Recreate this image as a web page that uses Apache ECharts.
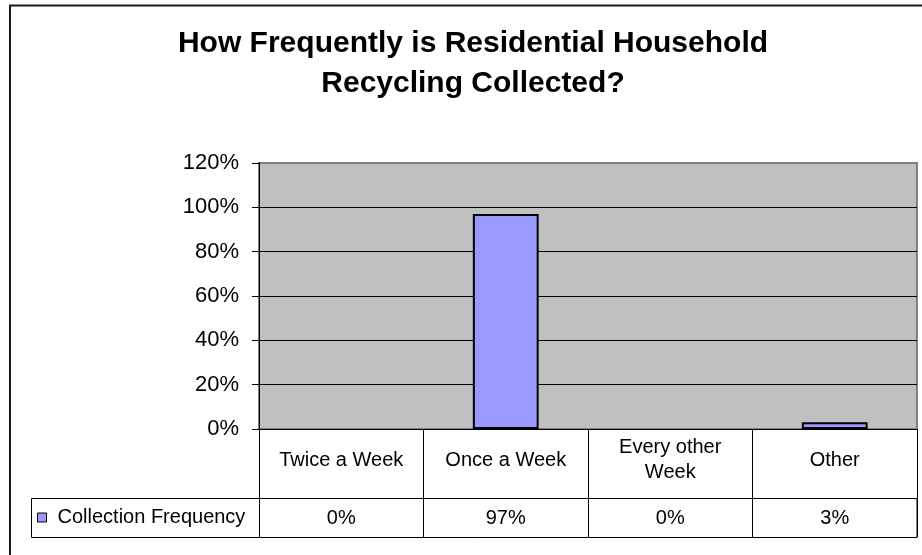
<!DOCTYPE html>
<html>
<head>
<meta charset="utf-8">
<script src="https://cdn.jsdelivr.net/npm/echarts@6/dist/echarts.min.js"></script>
<style>
html,body{margin:0;padding:0;background:#fff;}
#chart{width:922px;height:555px;}
</style>
</head>
<body>
<div id="chart"></div>
<script>
const titleText = 'How Frequently is Residential Household\nRecycling Collected?';
const categories = ['Twice a Week', 'Once a Week', 'Every other\nWeek', 'Other'];
const seriesName = 'Collection Frequency';
const values = [0, 0.97, 0, 0.03];
const yTicks = [0, 0.2, 0.4, 0.6, 0.8, 1.0, 1.2];

const FONT = 'Liberation Sans, Arial, sans-serif';
const gridLeft = 259, gridRight = 5, gridTop = 163, gridBottom = 126;
const W = 922, H = 555;
const axisY = H - gridBottom;        // 429
const row1H = 69, row2H = 39;
const tableLeft = 31;

const chart = echarts.init(document.getElementById('chart'), null, {renderer: 'canvas'});
const pct = v => Math.round(v * 100) + '%';

chart.setOption({
  animation: false,
  backgroundColor: '#fff',
  title: {
    text: titleText,
    left: 473,
    top: 24,
    padding: 0,
    textAlign: 'center',
    textStyle: {fontFamily: FONT, fontSize: 30, fontWeight: 'bold', color: '#000', lineHeight: 40}
  },
  legend: {
    data: [seriesName],
    left: 37,
    top: axisY + row1H + row2H / 2 - 10,
    padding: 0,
    itemWidth: 9,
    itemHeight: 9,
    icon: 'rect',
    itemStyle: {color: '#9999FF', borderColor: '#000', borderWidth: 1},
    textStyle: {fontFamily: FONT, fontSize: 20, color: '#000', padding: [0, 0, 0, 6]}
  },
  grid: {
    left: gridLeft, right: gridRight, top: gridTop, bottom: gridBottom,
    show: true, backgroundColor: '#C0C0C0', borderColor: '#808080', borderWidth: 2
  },
  xAxis: [{
    type: 'category',
    data: categories,
    position: 'bottom',
    axisLine: {show: true, lineStyle: {color: '#000', width: 1}},
    axisTick: {show: true, length: row1H + row2H, lineStyle: {color: '#000', width: 1}},
    axisLabel: {
      fontFamily: FONT, fontSize: 20, color: '#000', margin: 31,
      verticalAlign: 'middle', lineHeight: 25, interval: 0
    }
  }, {
    type: 'category',
    data: categories,
    position: 'bottom',
    offset: row1H,
    axisLine: {show: false},
    axisTick: {show: false},
    axisLabel: {
      fontFamily: FONT, fontSize: 20, color: '#000', margin: 20,
      verticalAlign: 'middle', interval: 0,
      formatter: (v, i) => pct(values[i])
    }
  }],
  yAxis: {
    type: 'value',
    min: yTicks[0], max: yTicks[yTicks.length - 1], interval: 0.2,
    axisLine: {show: true, lineStyle: {color: '#000', width: 1}},
    axisTick: {show: true, length: 7, lineStyle: {color: '#000'}},
    axisLabel: {fontFamily: FONT, fontSize: 22, color: '#000', margin: 20, formatter: pct},
    splitLine: {show: true, lineStyle: {color: ['#000', '#000', '#000', '#000', '#000', '#000', '#808080'], width: 1}}
  },
  series: [{
    name: seriesName,
    type: 'bar',
    data: values.map(v => v === 0 ? {value: v, itemStyle: {borderWidth: 0}} : v),
    barWidth: '40%',
    itemStyle: {color: '#9999FF', borderColor: '#000', borderWidth: 2}
  }],
  graphic: [{
    type: 'rect',
    silent: true,
    shape: {x: 10, y: 5.5, width: 1000, height: 1000},
    style: {fill: null, stroke: '#1a1a1a', lineWidth: 2}
  }, {
    type: 'rect',
    silent: true,
    shape: {x: tableLeft + 0.5, y: axisY + row1H + 0.5, width: (W - gridRight) - tableLeft - 0.5, height: row2H},
    style: {fill: null, stroke: '#000', lineWidth: 1}
  }]
});
</script>
</body>
</html>
